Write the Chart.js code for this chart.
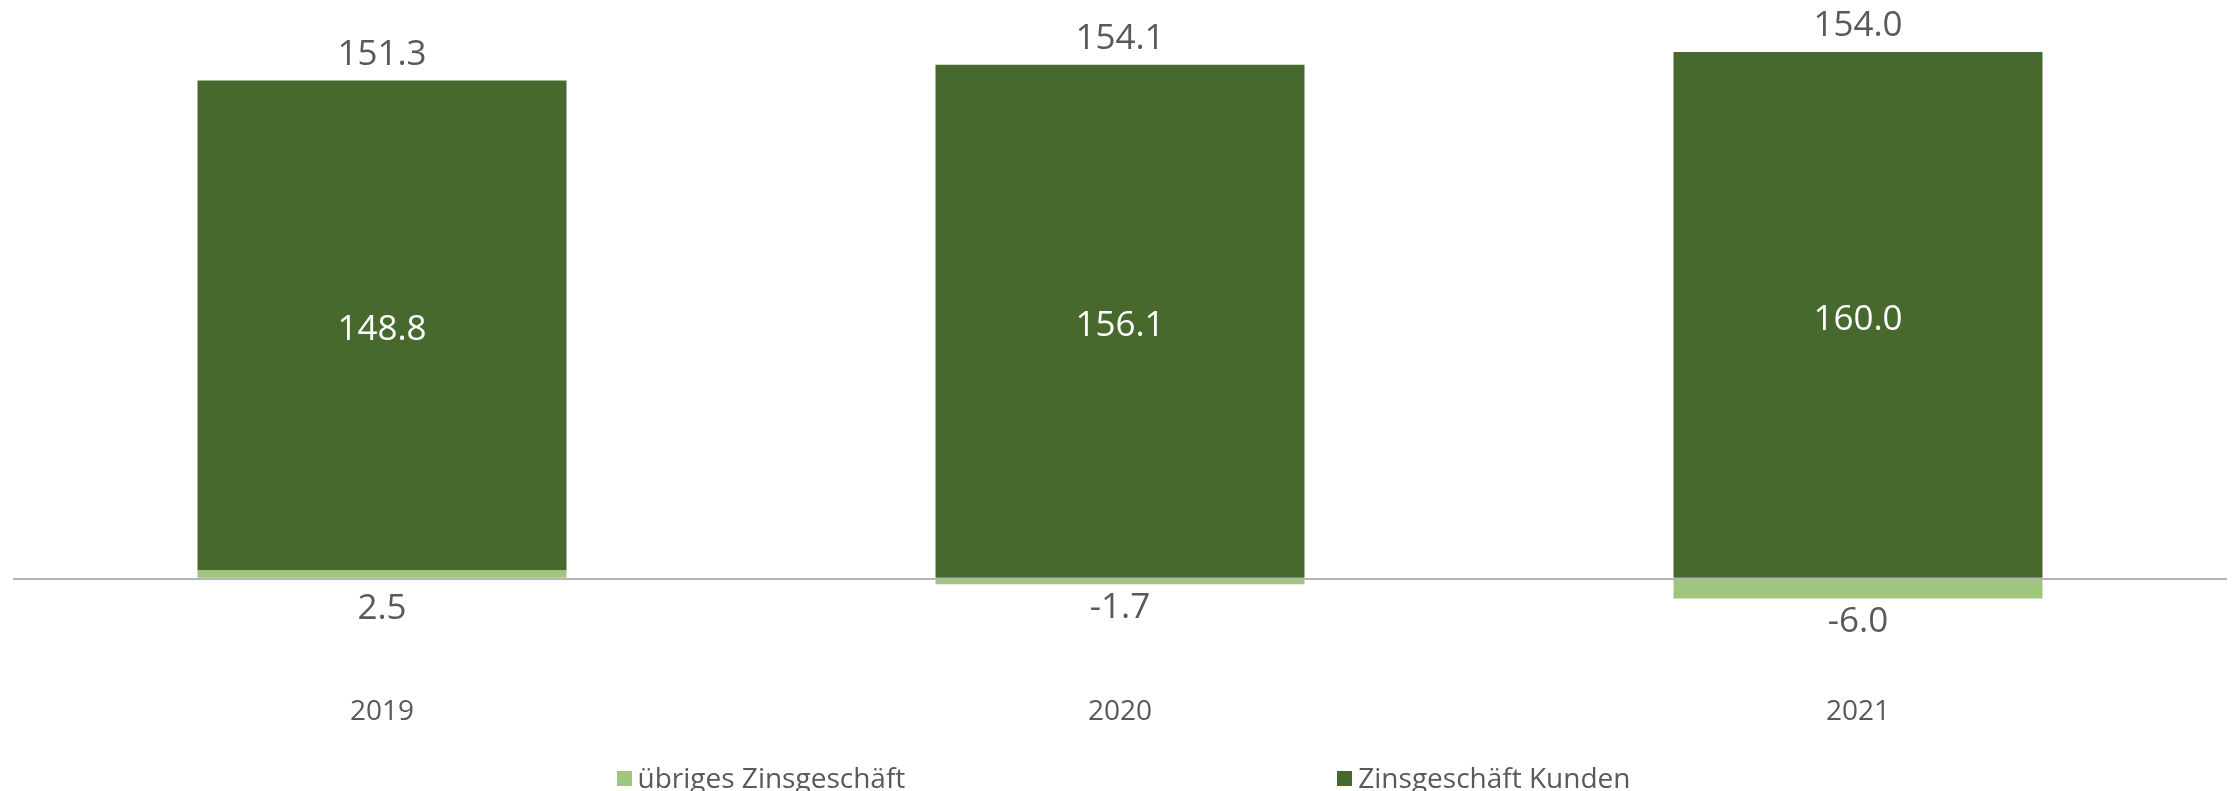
<!DOCTYPE html>
<html>
<head>
<meta charset="utf-8">
<script src="https://cdn.jsdelivr.net/npm/chart.js@4/dist/chart.umd.min.js"></script>
<style>
  html, body { margin: 0; padding: 0; background: #ffffff; }
  #wrap { position: relative; width: 2239px; height: 791px; overflow: hidden; }
  #c { position: absolute; left: 0; top: 0; }
  #legend {
    position: absolute; left: 8px; right: 0; top: 758px;
    display: flex; justify-content: center; gap: 432px;
    font-family: 'Open Sans', sans-serif; font-size: 28px; color: #595959;
  }
  .item { display: flex; align-items: center; white-space: nowrap; }
  .box { width: 15px; height: 15px; margin-right: 6px; margin-top: 2px; }
</style>
</head>
<body>
<div id="wrap">
  <canvas id="c" width="2239" height="791"></canvas>
  <div id="legend"></div>
</div>
<script>
const categories = ['2019', '2020', '2021'];
const seriesNames = ['übriges Zinsgeschäft', 'Zinsgeschäft Kunden'];
const otherInterest = [2.5, -1.7, -6.0];
const customerInterest = [148.8, 156.1, 160.0];
const totals = [151.3, 154.1, 154.0];

const LIGHT = '#A0C67E';
const DARK = '#48692E';
const GREY = '#595959';
const FONT = "'Open Sans', sans-serif";

const labelPlugin = {
  id: 'barLabels',
  afterDatasetsDraw(chart) {
    const ctx = chart.ctx;
    ctx.save();
    ctx.textAlign = 'center';
    ctx.textBaseline = 'middle';
    ctx.font = '35px ' + FONT;
    const m0 = chart.getDatasetMeta(0);
    const m1 = chart.getDatasetMeta(1);
    categories.forEach((c, i) => {
      const lb = m0.data[i];
      const db = m1.data[i];
      // inner label (dark)
      ctx.fillStyle = '#ffffff';
      ctx.fillText(customerInterest[i].toFixed(1), db.x, (db.y + db.base) / 2 + 5);
      // light label below
      ctx.fillStyle = GREY;
      const lowEdge = Math.max(lb.y, lb.base);
      const off = otherInterest[i] >= 0 ? 31 : 24;
      ctx.fillText(otherInterest[i].toFixed(1), lb.x, lowEdge + off);
      // total label above
      const top = Math.min(db.y, db.base, lb.y, lb.base);
      ctx.fillText(totals[i].toFixed(1), db.x, top - 26);
    });
    ctx.restore();
  }
};

const chart = new Chart(document.getElementById('c'), {
  type: 'bar',
  data: {
    labels: categories,
    datasets: [
      { label: seriesNames[0], data: otherInterest, backgroundColor: LIGHT, stack: 's' },
      { label: seriesNames[1], data: customerInterest, backgroundColor: DARK, stack: 's' }
    ]
  },
  options: {
    responsive: false,
    devicePixelRatio: 1,
    animation: false,
    barPercentage: 0.5,
    categoryPercentage: 1.0,
    layout: { padding: { left: 13, right: 12, top: 19, bottom: 44 } },
    plugins: { legend: { display: false }, tooltip: { enabled: false } },
    scales: {
      x: {
        stacked: true,
        grid: { display: false, drawTicks: false },
        border: { display: false },
        ticks: { color: GREY, font: { family: FONT, size: 28 }, padding: 18 }
      },
      y: {
        stacked: true,
        min: -30,
        max: 170,
        z: 1,
        ticks: { display: false, stepSize: 10 },
        border: { display: false },
        grid: {
          drawTicks: false,
          lineWidth: 2,
          color: (c) => (c.tick && c.tick.value === 0) ? '#B4B4B4' : 'rgba(0,0,0,0)'
        }
      }
    }
  },
  plugins: [labelPlugin]
});

const legend = document.getElementById('legend');
chart.data.datasets.forEach(ds => {
  const item = document.createElement('div');
  item.className = 'item';
  const box = document.createElement('span');
  box.className = 'box';
  box.style.background = ds.backgroundColor;
  const txt = document.createElement('span');
  txt.textContent = ds.label;
  item.appendChild(box);
  item.appendChild(txt);
  legend.appendChild(item);
});
</script>
</body>
</html>
